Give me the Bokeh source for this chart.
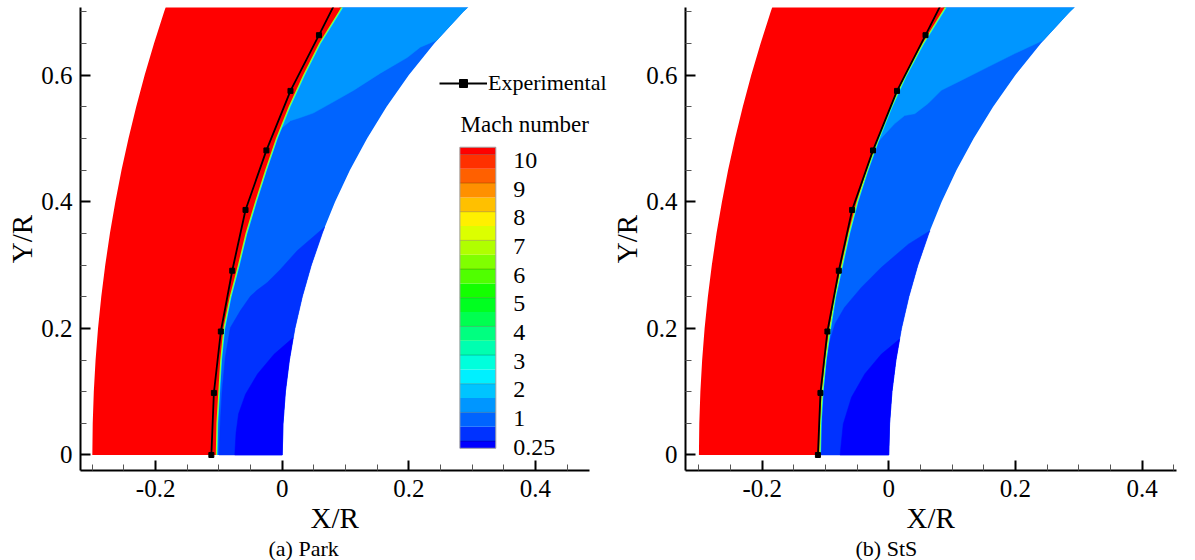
from bokeh.plotting import figure
from bokeh.models import (Range1d, FixedTicker, CustomJSTickFormatter, Title,
                          Legend, LegendItem)
from bokeh.layouts import row
from bokeh.embed import file_html
from bokeh.resources import INLINE
from bokeh.core.properties import value

# ---------------- data ----------------
Y_GRID = [0.00, 0.05, 0.10, 0.15, 0.20, 0.25, 0.30, 0.35, 0.40, 0.45,
          0.50, 0.55, 0.60, 0.65, 0.70, 0.75]
BODY_X = [0.0000, 0.0013, 0.0050, 0.0113, 0.0202, 0.0318, 0.0461, 0.0633,
          0.0835, 0.1070, 0.1340, 0.1648, 0.2000, 0.2401, 0.2859, 0.3386]
OUTER_X = [-0.3000, -0.2994, -0.2977, -0.2949, -0.2910, -0.2859, -0.2796,
           -0.2722, -0.2636, -0.2539, -0.2429, -0.2307, -0.2173, -0.2026,
           -0.1866, -0.1693]
SHOCK_PARK_X = [-0.105, -0.104, -0.101, -0.098, -0.093, -0.083, -0.070, -0.058,
                -0.043, -0.027, -0.010, 0.010, 0.033, 0.058, 0.089, 0.119]
SHOCK_STS_X = [-0.110, -0.109, -0.106, -0.101, -0.094, -0.086, -0.075, -0.064,
               -0.051, -0.035, -0.017, 0.003, 0.026, 0.053, 0.084, 0.115]

EXP_X = [-0.112, -0.108, -0.097, -0.079, -0.058, -0.025, 0.013, 0.058, 0.101]
EXP_Y = [0.000, 0.098, 0.195, 0.291, 0.387, 0.481, 0.575, 0.663, 0.748]

# contour-level boundaries inside the shock layer
A_PARK_X = [0.244, 0.218, 0.198, 0.155, 0.113, 0.076, 0.049, 0.029, 0.013, 0.000, -0.006]
A_PARK_Y = [0.655, 0.644, 0.628, 0.603, 0.576, 0.555, 0.540, 0.533, 0.528, 0.517, 0.510]
C_PARK_X = [0.067, 0.024, -0.003, -0.024, -0.040, -0.050, -0.066, -0.082, -0.090, -0.095, -0.098, -0.100]
C_PARK_Y = [0.360, 0.323, 0.293, 0.272, 0.260, 0.251, 0.228, 0.201, 0.154, 0.101, 0.050, 0.000]
D_PARK_X = [0.017, -0.013, -0.039, -0.058, -0.069, -0.073, -0.075]
D_PARK_Y = [0.185, 0.159, 0.128, 0.096, 0.065, 0.035, 0.000]

A_STS_X = [0.244, 0.199, 0.157, 0.115, 0.083, 0.062, 0.041, 0.025, 0.009, -0.006, -0.021]
A_STS_Y = [0.655, 0.634, 0.613, 0.592, 0.576, 0.555, 0.539, 0.536, 0.523, 0.507, 0.490]
C_STS_X = [0.065, 0.031, -0.012, -0.043, -0.070, -0.085, -0.096, -0.102, -0.106, -0.107]
C_STS_Y = [0.354, 0.333, 0.296, 0.265, 0.233, 0.207, 0.170, 0.117, 0.038, 0.000]
D_STS_X = [0.017, -0.012, -0.038, -0.059, -0.072, -0.077]
D_STS_Y = [0.183, 0.159, 0.128, 0.091, 0.049, 0.000]

# Mach-number contour levels and colours (bottom to top)
CB_LEVELS = [0.25, 0.5, 1, 1.5, 2, 2.5, 3, 3.5, 4, 4.5, 5, 5.5, 6, 6.5, 7,
             7.5, 8, 8.5, 9, 9.5, 10]
CB_COLORS = ["#0000FF", "#0032FF", "#0064FF", "#0096FF", "#00C4FF", "#00F0FF",
             "#00FFDC", "#00FFB0", "#00FF80", "#00FF50", "#00FF20", "#14FF00",
             "#50FF00", "#80FF00", "#B0FF00", "#DCFF00", "#FFF000", "#FFC000",
             "#FF9000", "#FF6000", "#FF3000", "#FF0000"]
CB_TICKS = [10, 9, 8, 7, 6, 5, 4, 3, 2, 1, 0.25]
CB_TICK_LABELS = ["10", "9", "8", "7", "6", "5", "4", "3", "2", "1", "0.25"]

X_TICKS = [-0.2, 0.0, 0.2, 0.4]
X_MINOR = [-0.30, -0.25, -0.15, -0.10, -0.05, 0.05, 0.10, 0.15, 0.25, 0.30, 0.35, 0.45]
Y_TICKS = [0.0, 0.2, 0.4, 0.6]
Y_MINOR = [0.05, 0.10, 0.15, 0.25, 0.30, 0.35, 0.45, 0.50, 0.55, 0.65, 0.70]

# ---------------- styling constants ----------------
FONT = "Liberation Serif"
RED = CB_COLORS[-1]
COL_A = CB_COLORS[3]   # 1 - 1.5
COL_B = CB_COLORS[2]   # 0.5 - 1
COL_C = CB_COLORS[1]   # 0.25 - 0.5
COL_D = CB_COLORS[0]   # < 0.25
NAN = float("nan")


def region_A(shock_x, ax, ay):
    xs, ys = list(ax), list(ay)
    for x, y in zip(shock_x, Y_GRID):
        if y > ay[-1]:
            xs.append(x); ys.append(y)
    for x, y in reversed(list(zip(BODY_X, Y_GRID))):
        if y > ay[0]:
            xs.append(x); ys.append(y)
    return xs, ys


def region_near_body(bx, by):
    xs, ys = list(bx), list(by)
    for x, y in zip(BODY_X, Y_GRID):
        if y < by[0]:
            xs.append(x); ys.append(y)
    return xs, ys


def make_panel(x_start, x_end, axis_end, frame_w, min_left, min_right,
               xlab_offset, caption, cap_offset, shock_x, A, C, D, with_key):
    p = figure(frame_width=frame_w, frame_height=463,
               x_range=Range1d(x_start, x_end), y_range=Range1d(-0.0245, 0.7067),
               output_backend="svg", toolbar_location=None,
               min_border_left=min_left, min_border_right=min_right,
               min_border_top=7, min_border_bottom=10)
    p.xgrid.visible = False
    p.ygrid.visible = False
    p.outline_line_color = None

    # shock layer base (M 0.5-1)
    p.patch(list(shock_x) + BODY_X[::-1], Y_GRID + Y_GRID[::-1],
            fill_color=COL_B, line_color=None)
    ax, ay = region_A(shock_x, *A)
    p.patch(ax, ay, fill_color=COL_A, line_color=COL_A, line_width=0.5)
    cx, cy = region_near_body(*C)
    p.patch(cx, cy, fill_color=COL_C, line_color=COL_C, line_width=0.5)
    dx, dy = region_near_body(*D)
    p.patch(dx, dy, fill_color=COL_D, line_color=COL_D, line_width=0.5)
    # thin transition across the shock
    p.line(shock_x, Y_GRID, line_color="#00E8FF", line_width=3.6)
    p.line(shock_x, Y_GRID, line_color="#9CFF20", line_width=2.4)
    # free stream (M 10)
    p.patch(OUTER_X + list(shock_x)[::-1], Y_GRID + Y_GRID[::-1],
            fill_color=RED, line_color=None)

    # experimental shock position
    p.line(EXP_X, EXP_Y, line_color="black", line_width=1.8)
    p.scatter(EXP_X, EXP_Y, marker="square", size=5, color="black")

    # axes
    fmt = CustomJSTickFormatter(code="return Math.abs(tick) < 1e-9 ? '0' : tick.toFixed(1);")
    p.xaxis.ticker = FixedTicker(ticks=X_TICKS, minor_ticks=X_MINOR)
    p.yaxis.ticker = FixedTicker(ticks=Y_TICKS, minor_ticks=Y_MINOR)
    p.xaxis.bounds = (x_start, axis_end)
    for axis in (p.xaxis[0], p.yaxis[0]):
        axis.formatter = fmt
        axis.axis_line_width = 2
        axis.major_tick_line_width = 2
        axis.minor_tick_line_width = 1
        axis.minor_tick_line_color = "#555555"
        axis.major_tick_in = 10
        axis.major_tick_out = 0
        axis.minor_tick_in = 6
        axis.minor_tick_out = 0
        axis.major_label_text_font = FONT
        axis.major_label_text_font_size = "25px"
        axis.major_label_text_color = "black"
        axis.axis_label_text_font = FONT
        axis.axis_label_text_font_size = "29px"
        axis.axis_label_text_font_style = "normal"
        axis.axis_label_text_color = "black"
    p.yaxis.axis_label = "Y/R"
    p.xaxis.major_label_standoff = 9
    p.yaxis.major_label_standoff = 8
    p.yaxis.axis_label_standoff = 0

    # x-axis title (centred on the drawn axis line) and sub-figure caption
    p.add_layout(Title(text="X/R", align="left", offset=xlab_offset,
                       text_font=FONT, text_font_size="29px",
                       text_font_style="normal", text_color="black",
                       standoff=0), "below")
    p.add_layout(Title(text=caption, align="left", offset=cap_offset,
                       text_font=FONT, text_font_size="22px",
                       text_font_style="normal", text_color="black",
                       standoff=0), "below")

    if with_key:
        # legend (key-only renderers hold no visible points)
        kl = p.line(x=[NAN], y=[NAN], line_color="black", line_width=1.8)
        km = p.scatter(x=[NAN], y=[NAN], marker="square", size=8, color="black")
        leg = Legend(items=[LegendItem(label="Experimental", renderers=[kl, km])],
                     location=(359, 374), padding=0, margin=0, spacing=0,
                     glyph_width=48, glyph_height=20, label_height=20,
                     label_standoff=1, border_line_color=None,
                     background_fill_alpha=0, label_text_color="black",
                     label_text_font=FONT, label_text_font_size="22px")
        p.add_layout(leg)

        # colour bar drawn as cells
        x0, x1, y0, step = 0.2806, 0.3374, 0.0106, 0.02264
        edges = ([y0] + [y0 + step / 2 + i * step for i in range(len(CB_LEVELS))]
                 + [y0 + len(CB_LEVELS) * step])
        p.quad(left=x0, right=x1, bottom=edges[:-1], top=edges[1:],
               fill_color=CB_COLORS, line_color=None)
        tick_y = [edges[CB_LEVELS.index(v) + 1] for v in CB_TICKS]
        p.segment(x0=x0, x1=x1, y0=tick_y, y1=tick_y, line_color="black",
                  line_alpha=0.22, line_width=1)
        p.quad(left=[x0], right=[x1], bottom=[edges[0]], top=[edges[-1]],
               fill_color=None, line_color="#a0a0a0", line_width=1)
        p.text(x=[x1 + 0.0275] * len(CB_TICKS), y=[t - 0.0095 for t in tick_y],
               text=CB_TICK_LABELS, text_baseline="middle", text_align="left",
               text_font=value(FONT), text_font_size="24px", text_color="black")
        p.text(x=[0.2817], y=[0.5224], text=["Mach number"],
               text_baseline="middle", text_align="left",
               text_font=value(FONT), text_font_size="23px", text_color="black")
    return p


# left panel: frame 80..608 px, axis line drawn to 589 px
p1 = make_panel(-0.3187, 0.5154, 0.4855, 528, 80, 0, 230, "(a)  Park", 188,
                SHOCK_PARK_X, (A_PARK_X, A_PARK_Y), (C_PARK_X, C_PARK_Y),
                (D_PARK_X, D_PARK_Y), True)
# right panel: frame 684..1175 px
p2 = make_panel(-0.3212, 0.4545, 0.4545, 491, 76, 20, 221, "(b)  StS", 170,
                SHOCK_STS_X, (A_STS_X, A_STS_Y), (C_STS_X, C_STS_Y),
                (D_STS_X, D_STS_Y), False)

layout = row(p1, p2)
open("out.html", "w").write(file_html(layout, INLINE))
